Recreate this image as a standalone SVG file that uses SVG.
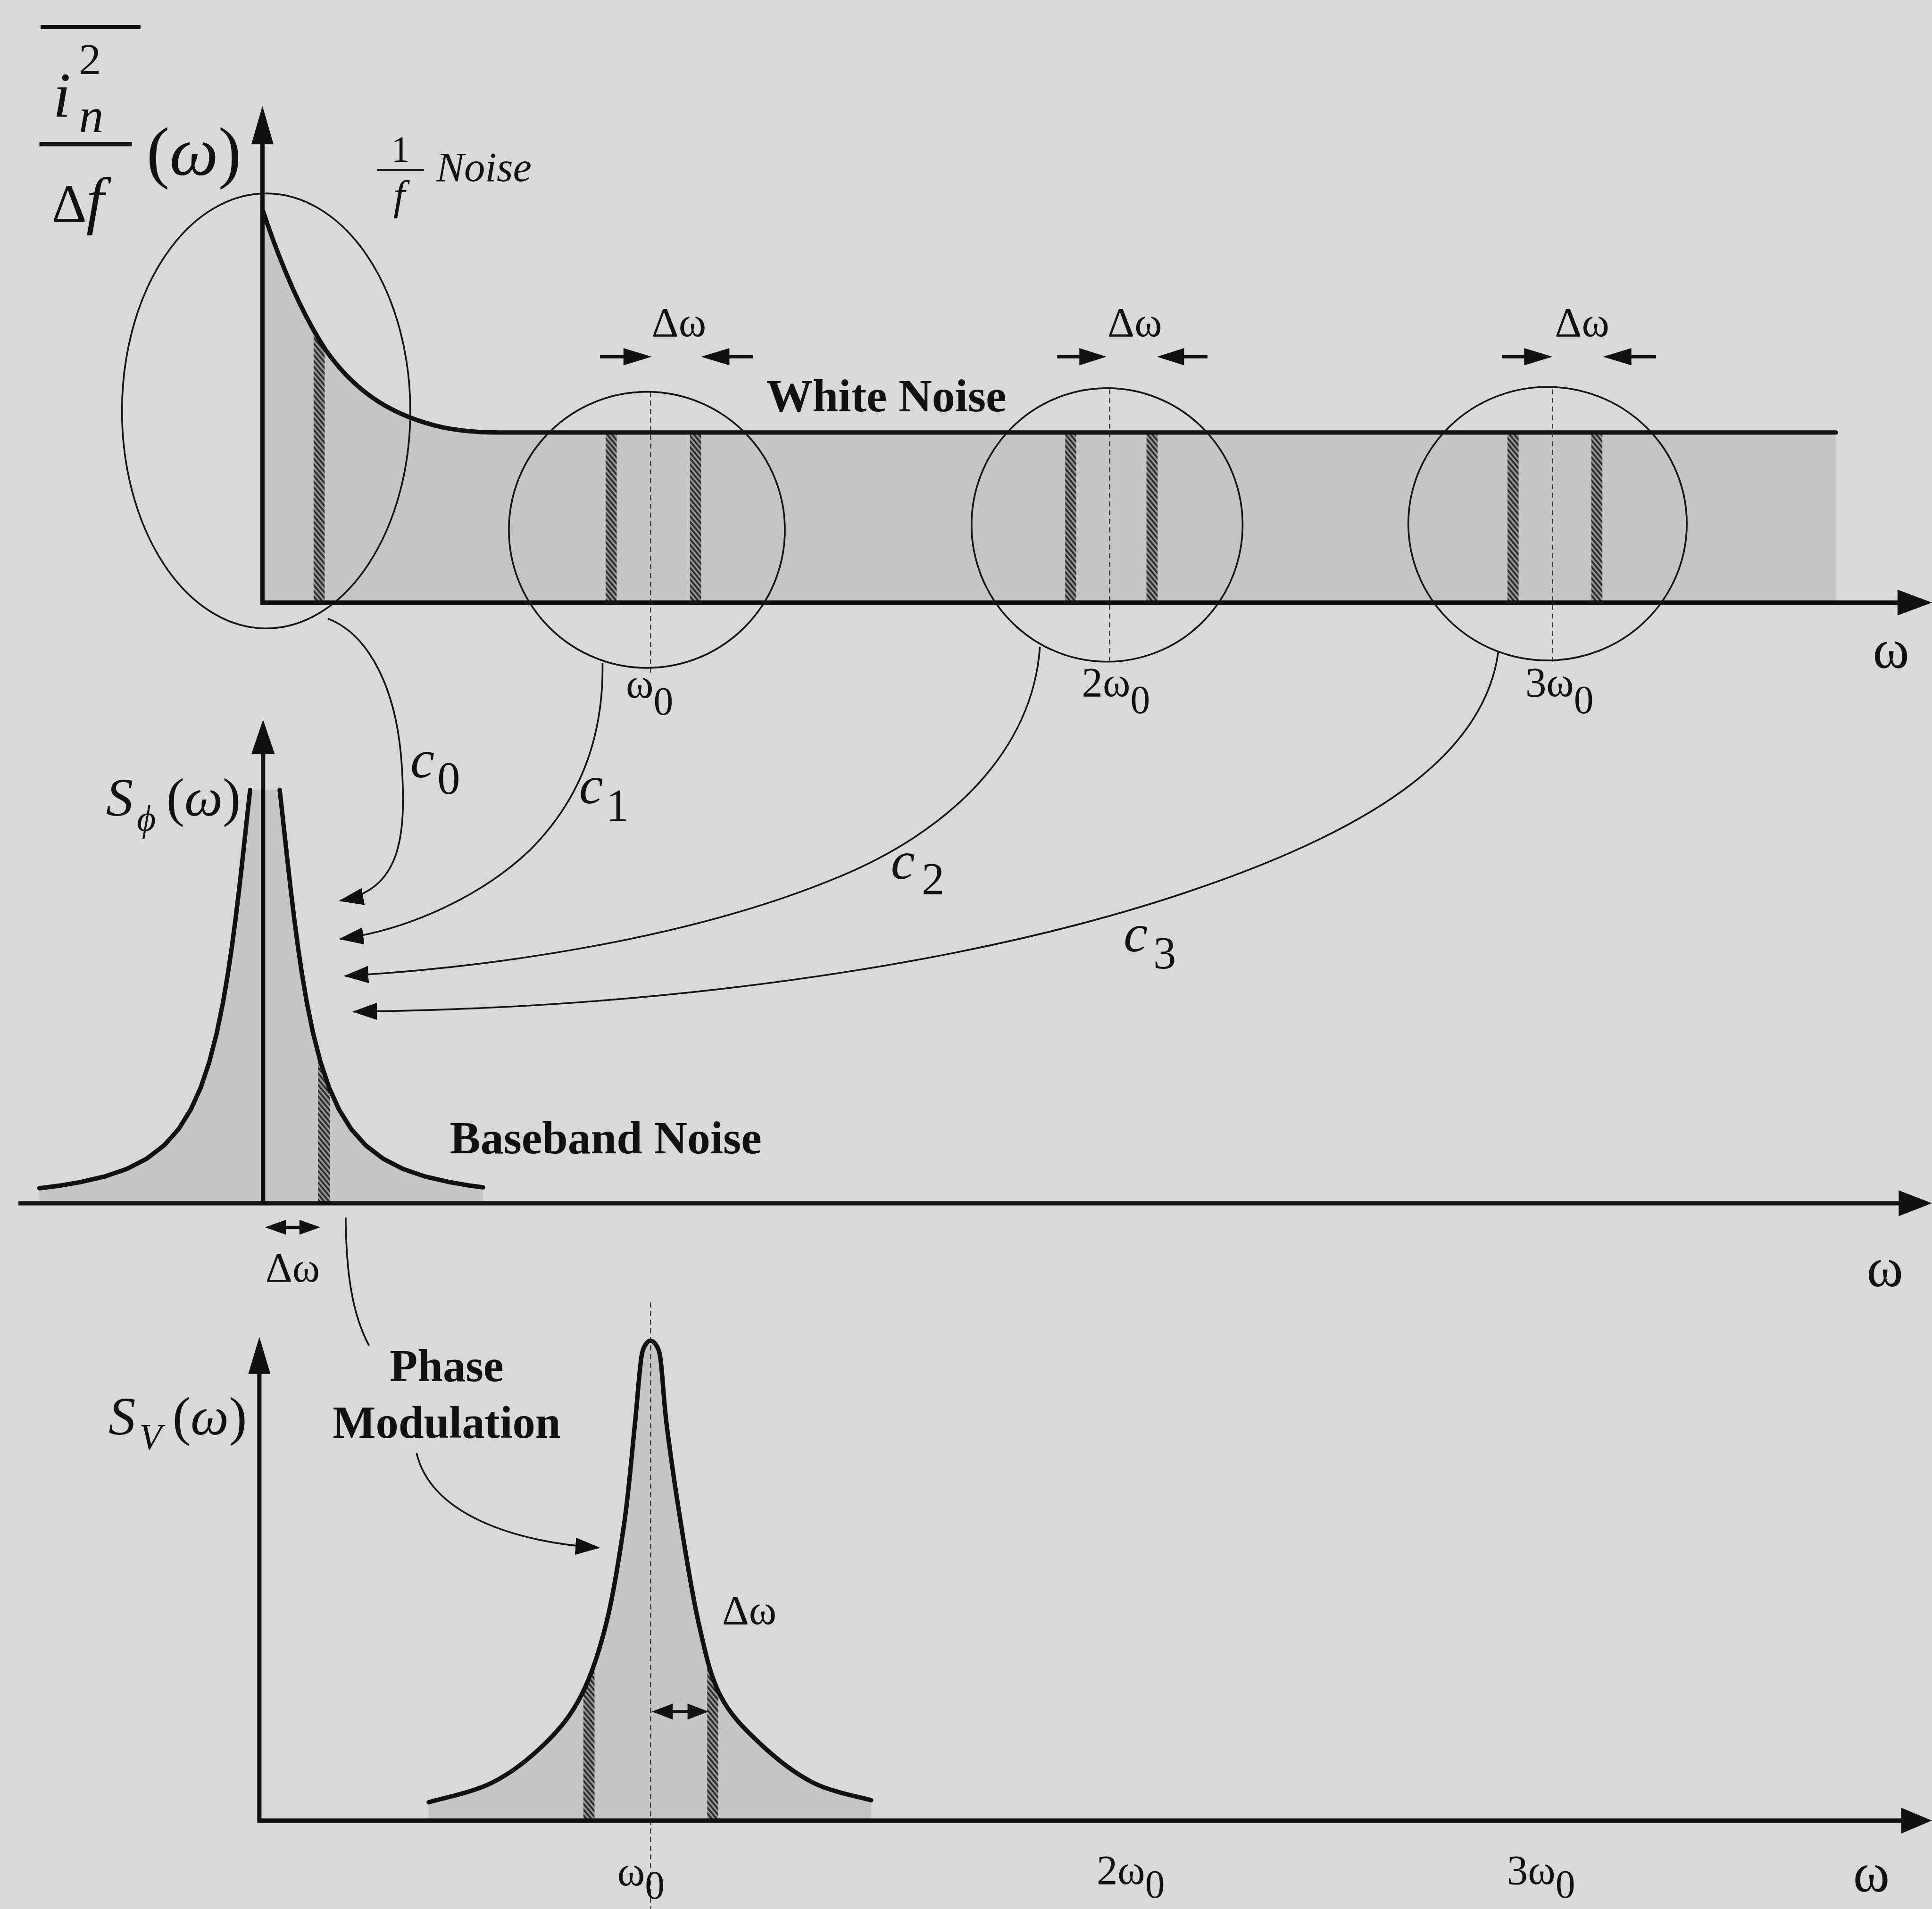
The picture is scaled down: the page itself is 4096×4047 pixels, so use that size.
<svg xmlns="http://www.w3.org/2000/svg" width="4096" height="4047" viewBox="0 0 4096 4047">
<defs>
<style>
.ax{stroke:#111;stroke-width:3.5;fill:none}
.thin{stroke:#151515;stroke-width:1.4;fill:none}
.crv{stroke:#111;stroke-width:3.6;fill:none;stroke-linejoin:round;stroke-linecap:round}
.fl{fill:#c5c5c5}
.ht{fill:url(#hatch)}
.dash{stroke:#333;stroke-width:0.9;stroke-dasharray:4 3;fill:none}
.hd{fill:#111;stroke:none}
.t{font-family:"Liberation Serif","Times New Roman",serif;fill:#111}
.i{font-style:italic}
.b{font-weight:bold}
</style>
<pattern id="hatch" width="3" height="3" patternUnits="userSpaceOnUse" patternTransform="rotate(-40)">
<rect width="3" height="3" fill="#9a9a9a"/>
<rect width="1.6" height="3" fill="#2e2e2e"/>
</pattern>
<marker id="ah" markerUnits="userSpaceOnUse" markerWidth="20" markerHeight="14" viewBox="0 0 20 14" refX="19" refY="7" orient="auto">
<path d="M0,0 L20,7 L0,14 Z" fill="#111"/>
</marker>
<clipPath id="cTop"><path d="M213,488 L213,170 C228,215 245,255 265,285 C290,320 320,338 360,347 C375,350 390,351 405,351 L1490,351 L1490,488 Z"/></clipPath>
<clipPath id="cMid"><path d="M32,976.5 L32,964.3 L50,962 L65,959.4 L85,954.8 L103,948.6 L119,940.4 L133,929.7 L145,916.3 L155,900.2 L163,882.4 L170,861.4 L176,838 L181,813.5 L185,789.9 L188,769.7 L191,747.1 L194,722.4 L196,704.8 L198,686.7 L200,668.2 L201,659 L202,649.9 L203,641 L227,641 L228,649.9 L229,659 L230,668.2 L232,686.7 L234,704.8 L236,722.4 L239,747.1 L242,769.7 L245,789.9 L249,813.5 L254,838 L260,861.4 L267,882.4 L275,900.2 L285,916.3 L297,929.7 L311,940.4 L327,948.6 L345,954.8 L365,959.4 L380,962 L392,963.6 L392,976.5 Z"/></clipPath>
<clipPath id="cBot"><path d="M348,1477 L348,1462.6 C356.6,1459.9 384,1454.6 399.8,1446.5 C415.6,1438.5 431,1426.1 443,1414.3 C455,1402.5 463.7,1391.7 471.9,1375.6 C480.1,1359.5 486.2,1340.7 492,1317.6 C497.8,1294.5 502.6,1263.8 506.5,1237 C510.4,1210.2 512.8,1179.7 515.2,1156.6 C517.6,1133.5 518.9,1110 521,1098.6 C522.5,1092 525.6,1088 528,1088 C530.4,1088 533.8,1092 535.4,1098.6 C537.6,1110 538.2,1133.5 541.1,1156.6 C544,1179.7 548.4,1210.2 552.7,1237 C557,1263.8 561.8,1294.5 567.1,1317.6 C572.4,1340.7 576.2,1359.5 584.4,1375.6 C592.6,1391.7 603.6,1402.5 616.1,1414.3 C628.6,1426.1 644.3,1438.7 659.4,1446.5 C674.6,1454.3 699.1,1458.6 707,1461 L707,1477 Z"/></clipPath>
</defs>
<rect width="4096" height="4047" fill="#d9d9d9"/>
<g transform="scale(2.61224)">

<g id="top-panel">
<path class="fl" d="M213,488 L213,170 C228,215 245,255 265,285 C290,320 320,338 360,347 C375,350 390,351 405,351 L1490,351 L1490,488 Z"/>
<g clip-path="url(#cTop)">
<rect class="ht" x="254.5" y="250" width="9" height="240"/>
<rect class="ht" x="491.5" y="351" width="9" height="138"/>
<rect class="ht" x="560" y="351" width="9" height="138"/>
<rect class="ht" x="864.5" y="351" width="9" height="138"/>
<rect class="ht" x="930.5" y="351" width="9" height="138"/>
<rect class="ht" x="1223.5" y="351" width="9" height="138"/>
<rect class="ht" x="1291.5" y="351" width="9" height="138"/>
</g>
<path class="crv" d="M213,170 C228,215 245,255 265,285 C290,320 320,338 360,347 C375,350 390,351 405,351 L1490,351"/>
<line class="dash" x1="528" y1="318" x2="528" y2="546"/>
<line class="dash" x1="900.5" y1="316" x2="900.5" y2="540"/>
<line class="dash" x1="1260" y1="316" x2="1260" y2="540"/>
<ellipse class="thin" cx="216" cy="333.5" rx="117" ry="176.5"/>
<ellipse class="thin" cx="525" cy="430" rx="112" ry="112"/>
<ellipse class="thin" cx="898.5" cy="426" rx="110" ry="111"/>
<ellipse class="thin" cx="1256" cy="425" rx="113" ry="111"/>
<line class="ax" x1="213" y1="489" x2="213" y2="112"/>
<polygon class="hd" points="213,86 204,117 222,117"/>
<line class="ax" x1="211.3" y1="489" x2="1545" y2="489"/>
<polygon class="hd" points="1568,489 1540,478.5 1540,499.5"/>
<g id="dw-arrows-top">
<line class="ax" x1="487" y1="289.5" x2="510" y2="289.5" style="stroke-width:2.6"/>
<polygon class="hd" points="529,289.5 506,282.5 506,296.5"/>
<line class="ax" x1="588" y1="289.5" x2="611" y2="289.5" style="stroke-width:2.6"/>
<polygon class="hd" points="569,289.5 592,282.5 592,296.5"/>
<line class="ax" x1="858" y1="289.5" x2="880" y2="289.5" style="stroke-width:2.6"/>
<polygon class="hd" points="898,289.5 876,282.5 876,296.5"/>
<line class="ax" x1="958" y1="289.5" x2="980" y2="289.5" style="stroke-width:2.6"/>
<polygon class="hd" points="939,289.5 961,282.5 961,296.5"/>
<line class="ax" x1="1219" y1="289.5" x2="1241" y2="289.5" style="stroke-width:2.6"/>
<polygon class="hd" points="1260,289.5 1237,282.5 1237,296.5"/>
<line class="ax" x1="1320" y1="289.5" x2="1344" y2="289.5" style="stroke-width:2.6"/>
<polygon class="hd" points="1301,289.5 1324,282.5 1324,296.5"/>
</g>
<text class="t" x="551" y="273" font-size="34" text-anchor="middle">Δω</text>
<text class="t" x="921" y="273" font-size="34" text-anchor="middle">Δω</text>
<text class="t" x="1284" y="273" font-size="34" text-anchor="middle">Δω</text>
<text class="t b" x="622" y="334" font-size="37.5">White Noise</text>
<text class="t" x="508" y="566" font-size="34">ω<tspan font-size="32" dy="14">0</tspan></text>
<text class="t" x="878" y="565" font-size="34">2ω<tspan font-size="32" dy="14">0</tspan></text>
<text class="t" x="1238" y="565" font-size="34">3ω<tspan font-size="32" dy="14">0</tspan></text>
<text class="t" x="1520" y="542" font-size="45">ω</text>
<g id="ylabel-top">
<line class="ax" x1="33" y1="22" x2="114" y2="22"/>
<text class="t i" x="43" y="95" font-size="52">i</text>
<text class="t" x="64" y="60" font-size="36">2</text>
<text class="t i" x="64" y="107" font-size="40">n</text>
<line class="ax" x1="32" y1="117" x2="107" y2="117"/>
<text class="t" x="42" y="180" font-size="44">Δ</text>
<text class="t i" x="70" y="180" font-size="52">f</text>
<text class="t" x="119" y="142" font-size="56">(<tspan class="i">ω</tspan>)</text>
</g>
<g id="label-1f">
<text class="t" x="325" y="131" font-size="30" text-anchor="middle">1</text>
<line x1="306" y1="138" x2="344" y2="138" stroke="#111" stroke-width="1.6"/>
<text class="t i" x="324" y="170" font-size="34" text-anchor="middle">f</text>
<text class="t i" x="354" y="147" font-size="34">Noise</text>
</g>
</g>

<g id="middle-panel">
<path class="fl" d="M32,976.5 L32,964.3 L50,962 L65,959.4 L85,954.8 L103,948.6 L119,940.4 L133,929.7 L145,916.3 L155,900.2 L163,882.4 L170,861.4 L176,838 L181,813.5 L185,789.9 L188,769.7 L191,747.1 L194,722.4 L196,704.8 L198,686.7 L200,668.2 L201,659 L202,649.9 L203,641 L227,641 L228,649.9 L229,659 L230,668.2 L232,686.7 L234,704.8 L236,722.4 L239,747.1 L242,769.7 L245,789.9 L249,813.5 L254,838 L260,861.4 L267,882.4 L275,900.2 L285,916.3 L297,929.7 L311,940.4 L327,948.6 L345,954.8 L365,959.4 L380,962 L392,963.6 L392,976.5 Z"/>
<g clip-path="url(#cMid)">
<rect class="ht" x="258" y="840" width="10" height="137"/>
</g>
<polyline class="crv" points="32,964.3 50,962 65,959.4 85,954.8 103,948.6 119,940.4 133,929.7 145,916.3 155,900.2 163,882.4 170,861.4 176,838 181,813.5 185,789.9 188,769.7 191,747.1 194,722.4 196,704.8 198,686.7 200,668.2 201,659 202,649.9 203,641"/>
<polyline class="crv" points="227,641 228,649.9 229,659 230,668.2 232,686.7 234,704.8 236,722.4 239,747.1 242,769.7 245,789.9 249,813.5 254,838 260,861.4 267,882.4 275,900.2 285,916.3 297,929.7 311,940.4 327,948.6 345,954.8 365,959.4 380,962 392,963.6"/>
<line class="ax" x1="213.5" y1="976" x2="213.5" y2="608"/>
<polygon class="hd" points="213.5,584 204,612 223,612"/>
<line class="ax" x1="15" y1="976.5" x2="1545" y2="976.5"/>
<polygon class="hd" points="1568,976.5 1541,966 1541,987"/>
<line class="ax" x1="228" y1="996" x2="246" y2="996" style="stroke-width:2.4"/>
<polygon class="hd" points="215,996 232,990 232,1002"/>
<polygon class="hd" points="260,996 243,990 243,1002"/>
<text class="t" x="237.5" y="1040" font-size="34" text-anchor="middle">Δω</text>
<text class="t b" x="365" y="936" font-size="37.5">Baseband Noise</text>
<text class="t" x="1515" y="1044" font-size="45">ω</text>
<text class="t i" x="86" y="662" font-size="44">S</text>
<text class="t i" x="111" y="674" font-size="30">ϕ</text>
<text class="t" x="135" y="662" font-size="44">(<tspan class="i">ω</tspan>)</text>
</g>

<g id="bottom-panel">
<path class="fl" d="M348,1477 L348,1462.6 C356.6,1459.9 384,1454.6 399.8,1446.5 C415.6,1438.5 431,1426.1 443,1414.3 C455,1402.5 463.7,1391.7 471.9,1375.6 C480.1,1359.5 486.2,1340.7 492,1317.6 C497.8,1294.5 502.6,1263.8 506.5,1237 C510.4,1210.2 512.8,1179.7 515.2,1156.6 C517.6,1133.5 518.9,1110 521,1098.6 C522.5,1092 525.6,1088 528,1088 C530.4,1088 533.8,1092 535.4,1098.6 C537.6,1110 538.2,1133.5 541.1,1156.6 C544,1179.7 548.4,1210.2 552.7,1237 C557,1263.8 561.8,1294.5 567.1,1317.6 C572.4,1340.7 576.2,1359.5 584.4,1375.6 C592.6,1391.7 603.6,1402.5 616.1,1414.3 C628.6,1426.1 644.3,1438.7 659.4,1446.5 C674.6,1454.3 699.1,1458.6 707,1461 L707,1477 Z"/>
<g clip-path="url(#cBot)">
<rect class="ht" x="473.5" y="1330" width="9" height="148"/>
<rect class="ht" x="574" y="1330" width="9" height="148"/>
</g>
<line class="dash" x1="528" y1="1057" x2="528" y2="1549"/>
<path class="crv" d="M348,1462.6 C356.6,1459.9 384,1454.6 399.8,1446.5 C415.6,1438.5 431,1426.1 443,1414.3 C455,1402.5 463.7,1391.7 471.9,1375.6 C480.1,1359.5 486.2,1340.7 492,1317.6 C497.8,1294.5 502.6,1263.8 506.5,1237 C510.4,1210.2 512.8,1179.7 515.2,1156.6 C517.6,1133.5 518.9,1110 521,1098.6 C522.5,1092 525.6,1088 528,1088 C530.4,1088 533.8,1092 535.4,1098.6 C537.6,1110 538.2,1133.5 541.1,1156.6 C544,1179.7 548.4,1210.2 552.7,1237 C557,1263.8 561.8,1294.5 567.1,1317.6 C572.4,1340.7 576.2,1359.5 584.4,1375.6 C592.6,1391.7 603.6,1402.5 616.1,1414.3 C628.6,1426.1 644.3,1438.7 659.4,1446.5 C674.6,1454.3 699.1,1458.6 707,1461"/>
<line class="ax" x1="210.5" y1="1477.5" x2="210.5" y2="1110"/>
<polygon class="hd" points="210.5,1085 201.5,1115 219.5,1115"/>
<line class="ax" x1="208.8" y1="1477.5" x2="1545" y2="1477.5"/>
<polygon class="hd" points="1568,1477.5 1543,1467 1543,1488"/>
<line class="ax" x1="542" y1="1389" x2="562" y2="1389" style="stroke-width:2.4"/>
<polygon class="hd" points="529,1389 546,1382.5 546,1395.5"/>
<polygon class="hd" points="575,1389 558,1382.5 558,1395.5"/>
<text class="t" x="586" y="1318" font-size="34">Δω</text>
<text class="t i" x="88" y="1164" font-size="44">S</text>
<text class="t i" x="113" y="1176" font-size="30">V</text>
<text class="t" x="140" y="1164" font-size="44">(<tspan class="i">ω</tspan>)</text>
<text class="t" x="501" y="1530" font-size="34">ω<tspan font-size="32" dy="11">0</tspan></text>
<text class="t" x="890" y="1529" font-size="34">2ω<tspan font-size="32" dy="11">0</tspan></text>
<text class="t" x="1223" y="1529" font-size="34">3ω<tspan font-size="32" dy="11">0</tspan></text>
<text class="t" x="1504" y="1535" font-size="45">ω</text>
</g>

<g id="connectors">
<path class="thin" marker-end="url(#ah)" d="M266,502 C300,515 322,560 326,620 C330,680 325,722 276,731"/>
<path class="thin" marker-end="url(#ah)" d="M489,538 C490,600 470,650 430,690 C390,728 330,755 276,762"/>
<path class="thin" marker-end="url(#ah)" d="M844,525 C838,610 770,675 680,712 C560,762 400,785 280,792"/>
<path class="thin" marker-end="url(#ah)" d="M1216,529 C1205,610 1120,670 975,720 C800,781 550,818 287,821"/>
<path class="thin" d="M280.5,988 C281,1030 285,1065 299.5,1092"/>
<path class="thin" marker-end="url(#ah)" d="M338,1179 C350,1230 420,1252 486,1256"/>
<text class="t i" x="333" y="631" font-size="44">c</text>
<text class="t" x="355" y="644" font-size="37">0</text>
<text class="t i" x="470" y="652" font-size="44">c</text>
<text class="t" x="492" y="666" font-size="37">1</text>
<text class="t i" x="723" y="713" font-size="44">c</text>
<text class="t" x="748" y="726" font-size="37">2</text>
<text class="t i" x="912" y="772" font-size="44">c</text>
<text class="t" x="936" y="786" font-size="37">3</text>
<text class="t b" x="362.5" y="1121" font-size="37" text-anchor="middle">Phase</text>
<text class="t b" x="362.5" y="1167" font-size="37" text-anchor="middle">Modulation</text>
</g>

</g>
</svg>
